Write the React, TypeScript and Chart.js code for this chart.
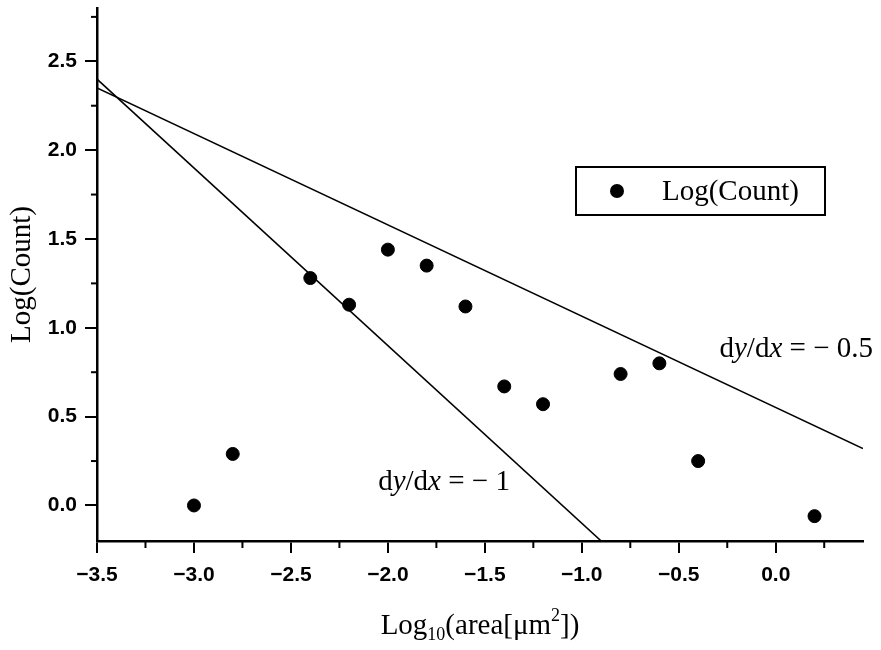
import React, { useEffect, useRef } from "react";
import { Chart, registerables } from "chart.js";

Chart.register(...registerables);

// Data
const AREA_LOG = [-3.0, -2.8, -2.4, -2.2, -2.0, -1.8, -1.6, -1.4, -1.2, -0.8, -0.6, -0.4, 0.2];
const COUNT_LOG = [0.0, 0.29, 1.28, 1.13, 1.44, 1.35, 1.12, 0.67, 0.57, 0.74, 0.8, 0.25, -0.06];
const SLOPE1_X = [-3.5, -0.9];
const SLOPE1_Y = [2.4, -0.2];
const SLOPE05_X = [-3.5, 0.45];
const SLOPE05_Y = [2.35, 0.32];
const X_MAJOR = [-3.5, -3.0, -2.5, -2.0, -1.5, -1.0, -0.5, 0.0];
const X_MINOR = [-3.25, -2.75, -2.25, -1.75, -1.25, -0.75, -0.25, 0.25];
const Y_MAJOR = [0.0, 0.5, 1.0, 1.5, 2.0, 2.5];
const Y_MINOR = [0.25, 0.75, 1.25, 1.75, 2.25, 2.75];
const SERIES_LABEL = "Log(Count)";
const Y_TITLE = "Log(Count)";
const LABEL_SLOPE05 = [["d", false], ["y", true], ["/d", false], ["x", true], [" = \u2212 0.5", false]] as [string, boolean][];
const LABEL_SLOPE1 = [["d", false], ["y", true], ["/d", false], ["x", true], [" = \u2212 1", false]] as [string, boolean][];
const LABEL_SLOPE05_AT = { x: -0.29, y: 0.88 };
const LABEL_SLOPE1_AT = { x: -2.05, y: 0.13 };

const SERIF = "'Liberation Serif', 'Times New Roman', serif";
const SANS = "'Liberation Sans', Arial, sans-serif";

const fmt = (v: number) => (v < 0 ? "\u2212" + Math.abs(v).toFixed(1) : v.toFixed(1));

function drawRich(ctx: CanvasRenderingContext2D, pieces: [string, boolean][], x: number, y: number, size: number) {
  let cx = x;
  ctx.textBaseline = "middle";
  ctx.textAlign = "left";
  for (const [t, it] of pieces) {
    ctx.font = `${it ? "italic " : ""}${size}px ${SERIF}`;
    ctx.fillText(t, cx, y);
    cx += ctx.measureText(t).width;
  }
}

const decorPlugin = {
  id: "decor",
  afterDraw(chart: any) {
    const ctx: CanvasRenderingContext2D = chart.ctx;
    const xs = chart.scales.x;
    const ys = chart.scales.y;
    const ca = chart.chartArea;
    ctx.save();
    ctx.strokeStyle = "#000";
    ctx.fillStyle = "#000";
    ctx.lineWidth = 2;
    // minor ticks
    for (const v of X_MINOR) {
      const px = xs.getPixelForValue(v);
      ctx.beginPath();
      ctx.moveTo(px, ca.bottom);
      ctx.lineTo(px, ca.bottom + 7);
      ctx.stroke();
    }
    for (const v of Y_MINOR) {
      const py = ys.getPixelForValue(v);
      ctx.beginPath();
      ctx.moveTo(ca.left - 6, py);
      ctx.lineTo(ca.left, py);
      ctx.stroke();
    }
    // slope annotations
    drawRich(ctx, LABEL_SLOPE05, xs.getPixelForValue(LABEL_SLOPE05_AT.x), ys.getPixelForValue(LABEL_SLOPE05_AT.y), 29);
    drawRich(ctx, LABEL_SLOPE1, xs.getPixelForValue(LABEL_SLOPE1_AT.x), ys.getPixelForValue(LABEL_SLOPE1_AT.y), 29);

    // legend
    const lx = ca.left + 479;
    const ly = ca.top + 159;
    const lw = 249;
    const lh = 48;
    ctx.lineWidth = 2;
    ctx.strokeRect(lx, ly, lw, lh);
    ctx.beginPath();
    ctx.arc(lx + 41, ly + lh / 2, 7, 0, Math.PI * 2);
    ctx.fill();
    ctx.font = `29px ${SERIF}`;
    ctx.textBaseline = "middle";
    ctx.textAlign = "left";
    ctx.fillText(SERIES_LABEL, lx + 86, ly + lh / 2 + 1);

    // x-axis title with subscript / superscript
    const big = `29px ${SERIF}`;
    const small = `18px ${SERIF}`;
    const parts: [string, string, number][] = [
      ["Log", big, 0],
      ["10", small, 6],
      ["(area[\u03bcm", big, 0],
      ["2", small, -13],
      ["])", big, 0],
    ];
    let total = 0;
    for (const [t, f] of parts) {
      ctx.font = f;
      total += ctx.measureText(t).width;
    }
    let cx = (ca.left + ca.right) / 2 - total / 2;
    const base = 634;
    ctx.textBaseline = "alphabetic";
    for (const [t, f, dy] of parts) {
      ctx.font = f;
      ctx.fillText(t, cx, base + dy);
      cx += ctx.measureText(t).width;
    }
    ctx.restore();
  },
};

export default function App() {
  const ref = useRef<HTMLCanvasElement | null>(null);
  useEffect(() => {
    if (!ref.current) return;
    const chart = new Chart(ref.current, {
      type: "scatter",
      data: {
        datasets: [
          {
            label: SERIES_LABEL,
            data: AREA_LOG.map((x, i) => ({ x, y: COUNT_LOG[i] })),
            backgroundColor: "#000",
            borderColor: "#000",
            pointRadius: 6.5,
            pointStyle: "circle",
          },
          {
            type: "line",
            label: "slope -1",
            data: SLOPE1_X.map((x, i) => ({ x, y: SLOPE1_Y[i] })),
            borderColor: "#000",
            borderWidth: 1.6,
            pointRadius: 0,
            fill: false,
          } as any,
          {
            type: "line",
            label: "slope -0.5",
            data: SLOPE05_X.map((x, i) => ({ x, y: SLOPE05_Y[i] })),
            borderColor: "#000",
            borderWidth: 1.6,
            pointRadius: 0,
            fill: false,
          } as any,
        ],
      },
      options: {
        responsive: false,
        animation: false,
        devicePixelRatio: 1,
        layout: { padding: { left: 0, right: 18, top: 8, bottom: 0 } },
        plugins: { legend: { display: false }, tooltip: { enabled: false } },
        scales: {
          x: {
            type: "linear",
            min: -3.5,
            max: 0.45,
            afterBuildTicks: (s: any) => {
              s.ticks = X_MAJOR.map((v) => ({ value: v }));
            },
            afterFit: (s: any) => {
              s.height = 109;
              s.paddingLeft = 0;
              s.paddingRight = 0;
            },
            border: { display: true, color: "#000", width: 2.5 },
            grid: { drawOnChartArea: false, drawTicks: true, tickLength: 12, color: "#000", lineWidth: 2 },
            ticks: {
              color: "#000",
              padding: 10,
              font: { family: SANS, size: 21, weight: "bold" },
              callback: (v: any) => fmt(Number(v)),
              maxRotation: 0,
            },
            title: { display: false },
          },
          y: {
            type: "linear",
            min: -0.2,
            max: 2.8,
            afterBuildTicks: (s: any) => {
              s.ticks = Y_MAJOR.map((v) => ({ value: v }));
            },
            afterFit: (s: any) => {
              s.width = 97;
              s.paddingTop = 0;
              s.paddingBottom = 0;
            },
            border: { display: true, color: "#000", width: 2.5 },
            grid: { drawOnChartArea: false, drawTicks: true, tickLength: 12, color: "#000", lineWidth: 2 },
            ticks: {
              color: "#000",
              padding: 8,
              font: { family: SANS, size: 21, weight: "bold" },
              callback: (v: any) => fmt(Number(v)),
            },
            title: {
              display: true,
              text: Y_TITLE,
              color: "#000",
              font: { family: SERIF, size: 29 },
              padding: { top: 5, bottom: 0 },
            },
          },
        },
      },
      plugins: [decorPlugin],
    } as any);
    return () => chart.destroy();
  }, []);
  return (
    <div style={{ position: "fixed", left: 0, top: 0, width: 881, height: 650, background: "#fff" }}>
      <canvas ref={ref} width={881} height={650} style={{ width: 881, height: 650 }} />
    </div>
  );
}
